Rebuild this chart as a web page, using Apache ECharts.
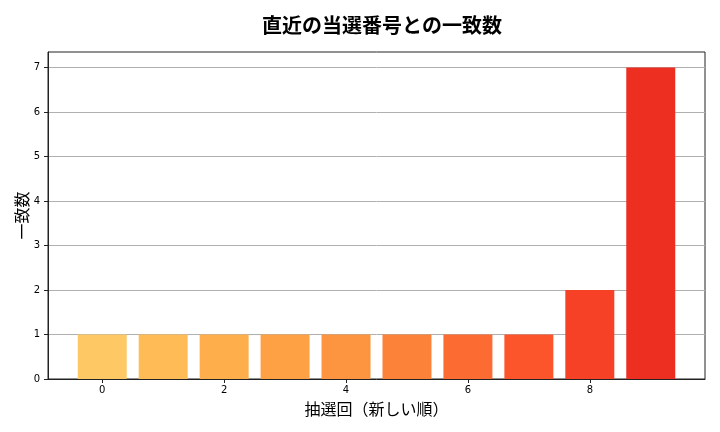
<!DOCTYPE html>
<html>
<head>
<meta charset="utf-8">
<script src="https://cdn.jsdelivr.net/npm/echarts@6/dist/echarts.min.js"></script>
<style>
  html, body { margin: 0; padding: 0; background: #ffffff; }
  #main { width: 720px; height: 432px; }
</style>
</head>
<body>
<div id="main"></div>
<script>
// 抽選回（新しい順）と一致数
var drawIndex = [0, 1, 2, 3, 4, 5, 6, 7, 8, 9]
var matchCounts = [1, 1, 1, 1, 1, 1, 1, 1, 2, 7]
var barColors = ['#fec965', '#febb56', '#feae4a', '#fea145', '#fd943f',
                 '#fd8239', '#fc6b32', '#fc552c', '#f64127', '#ed2f22']
var xTicks = [0, 2, 4, 6, 8]
var yTicks = [0, 1, 2, 3, 4, 5, 6, 7]

var chartDom = document.getElementById('main');
var myChart = echarts.init(chartDom);
var option;

var barData = []
for (let i = 0; i < drawIndex.length; i++) {
    barData.push({
        value: [drawIndex[i], matchCounts[i]],
        itemStyle: {color: barColors[i]}
    })
}

option = {
    animation: false,
    title: {
        text: '直近の当選番号との一致数',
        left: 377,
        textAlign: 'center',
        top: 10,
        textStyle: {
            color: '#000000',
            fontWeight: 'bold',
            fontFamily: 'Noto Sans CJK JP',
            fontSize: 20
        }
    },
    grid: {
        left: 48,
        right: 15,
        top: 52,
        bottom: 53,
        show: true,
        borderColor: '#222222',
        borderWidth: 1,
        containLabel: false
    },
    xAxis: {
        type: 'value',
        min: -0.89,
        max: 9.89,
        name: '抽選回（新しい順）',
        nameLocation: 'center',
        nameGap: 22,
        nameMoveOverlap: false,
        nameTextStyle: {
            color: '#000000',
            fontFamily: 'Noto Sans CJK JP',
            fontSize: 16
        },
        axisLine: {show: true, onZero: false, lineStyle: {color: '#222222', width: 1}},
        axisTick: {show: true, length: 4, customValues: xTicks, lineStyle: {color: '#222222'}},
        axisLabel: {
            customValues: xTicks,
            color: '#000000',
            fontFamily: 'DejaVu Sans',
            fontSize: 10,
            margin: 6
        },
        splitLine: {show: false}
    },
    yAxis: {
        type: 'value',
        min: 0,
        max: 7.35,
        name: '一致数',
        nameLocation: 'center',
        nameRotate: 90,
        nameGap: 18,
        nameMoveOverlap: false,
        nameTextStyle: {
            color: '#000000',
            fontFamily: 'Noto Sans CJK JP',
            fontSize: 16
        },
        axisLine: {show: true, onZero: false, lineStyle: {color: '#222222', width: 1}},
        axisTick: {show: true, length: 4, customValues: yTicks, lineStyle: {color: '#222222'}},
        axisLabel: {
            customValues: yTicks,
            color: '#000000',
            fontFamily: 'DejaVu Sans',
            fontSize: 10,
            margin: 8
        },
        splitLine: {
            show: true,
            lineStyle: {color: '#b0b0b0', width: 1}
        }
    },
    series: [
        {
            type: 'bar',
            data: barData,
            barWidth: 49
        }
    ]
};

option && myChart.setOption(option);
</script>
</body>
</html>
